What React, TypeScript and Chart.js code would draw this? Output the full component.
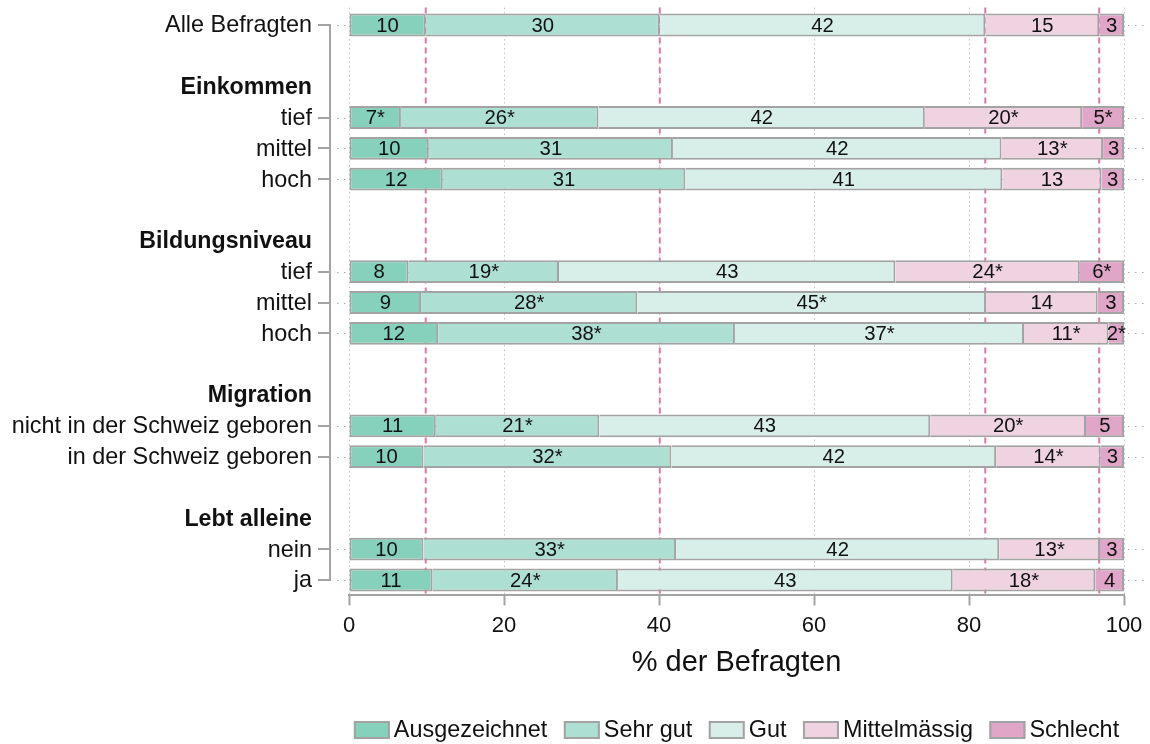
import React, { useEffect, useRef } from "react";
import { Chart, registerables } from "chart.js";

Chart.register(...registerables);

const FONT = '"Liberation Sans", Arial, Helvetica, sans-serif';

// Row structure (top to bottom)
const rowLabels = [
  "Alle Befragten", "", "Einkommen", "tief", "mittel", "hoch", "",
  "Bildungsniveau", "tief", "mittel", "hoch", "",
  "Migration", "nicht in der Schweiz geboren", "in der Schweiz geboren", "",
  "Lebt alleine", "nein", "ja",
];
const headerRows = [false, false, true, false, false, false, false, true, false, false, false, false, true, false, false, false, true, false, false];

const seriesNames = ["Ausgezeichnet", "Sehr gut", "Gut", "Mittelmässig", "Schlecht"];

const ausgezeichnet = [9.9, null, null, 6.7, 10.3, 12.1, null, null, 7.7, 9.3, 11.5, null, null, 11.2, 9.6, null, null, 9.6, 10.8];
const sehrGut = [30.2, null, null, 25.5, 31.5, 31.3, null, null, 19.4, 27.9, 38.3, null, null, 21.1, 32.0, null, null, 32.6, 23.9];
const gut = [42.0, null, null, 42.1, 42.4, 40.9, null, null, 43.4, 45.0, 37.3, null, null, 42.7, 41.9, null, null, 41.7, 43.2];
const mittelmaessig = [14.7, null, null, 20.3, 13.1, 12.8, null, null, 23.8, 14.4, 10.9, null, null, 20.1, 13.5, null, null, 13.0, 18.4];
const schlecht = [3.2, null, null, 5.4, 2.7, 2.9, null, null, 5.7, 3.4, 2.0, null, null, 4.9, 3.0, null, null, 3.1, 3.7];

const lblAusgezeichnet = ["10", "", "", "7*", "10", "12", "", "", "8", "9", "12", "", "", "11", "10", "", "", "10", "11"];
const lblSehrGut = ["30", "", "", "26*", "31", "31", "", "", "19*", "28*", "38*", "", "", "21*", "32*", "", "", "33*", "24*"];
const lblGut = ["42", "", "", "42", "42", "41", "", "", "43", "45*", "37*", "", "", "43", "42", "", "", "42", "43"];
const lblMittelmaessig = ["15", "", "", "20*", "13*", "13", "", "", "24*", "14", "11*", "", "", "20*", "14*", "", "", "13*", "18*"];
const lblSchlecht = ["3", "", "", "5*", "3", "3", "", "", "6*", "3", "2*", "", "", "5", "3", "", "", "3", "4"];

const xTicks = [0, 20, 40, 60, 80, 100];

const seriesValues = [ausgezeichnet, sehrGut, gut, mittelmaessig, schlecht];
const seriesLabels = [lblAusgezeichnet, lblSehrGut, lblGut, lblMittelmaessig, lblSchlecht];
const colors = ["#86d1bb", "#aedfd3", "#d7efe8", "#efd3e1", "#dfa6c7"];
const BORDER = "#a3a3a3";

// Reference lines: cumulative shares of "Alle Befragten"
const referenceLines = (() => {
  const out: number[] = [];
  let acc = 0;
  for (let s = 0; s < 4; s++) {
    acc += seriesValues[s][0] as number;
    out.push(acc);
  }
  return out;
})();

function line(ctx: CanvasRenderingContext2D, x1: number, y1: number, x2: number, y2: number) {
  ctx.beginPath();
  ctx.moveTo(x1, y1);
  ctx.lineTo(x2, y2);
  ctx.stroke();
}

const decorPlugin = {
  id: "decor",
  beforeDatasetsDraw(chart: any) {
    const { ctx, chartArea: ca, scales } = chart;
    const x = scales.x;
    const y = scales.y;
    ctx.save();
    // vertical dotted grid
    ctx.strokeStyle = "#c2c2c2";
    ctx.lineWidth = 1;
    ctx.setLineDash([1.5, 3]);
    for (const t of xTicks) {
      const px = Math.round(x.getPixelForValue(t)) + 0.5;
      line(ctx, px, ca.top - 2, px, ca.bottom);
    }
    // horizontal dotted lines at data rows
    ctx.strokeStyle = "#a8a8a8";
    ctx.setLineDash([1.5, 5.5]);
    rowLabels.forEach((lab, i) => {
      if (!lab || headerRows[i]) return;
      const py = Math.round(y.getPixelForValue(i)) + 0.5;
      line(ctx, ca.left - 12, py, ca.right + 22, py);
    });
    // reference dashed pink lines
    ctx.strokeStyle = "#d67aab";
    ctx.lineWidth = 2;
    ctx.setLineDash([6, 4]);
    for (const v of referenceLines) {
      const px = x.getPixelForValue(v);
      line(ctx, px, ca.top - 2, px, ca.bottom);
    }
    ctx.restore();
  },
  afterDatasetsDraw(chart: any) {
    const { ctx } = chart;
    ctx.save();
    ctx.font = `20.3px ${FONT}`;
    ctx.fillStyle = "#111";
    ctx.textAlign = "center";
    ctx.textBaseline = "middle";
    chart.data.datasets.forEach((ds: any, di: number) => {
      const meta = chart.getDatasetMeta(di);
      meta.data.forEach((el: any, i: number) => {
        const txt = seriesLabels[di][i];
        if (!txt || ds.data[i] == null) return;
        const cx = (el.x + el.base) / 2;
        ctx.fillText(txt, cx, el.y + 1);
      });
    });
    ctx.restore();
  },
  afterDraw(chart: any) {
    const { ctx, chartArea: ca, scales } = chart;
    const y = scales.y;
    ctx.save();
    // y labels
    ctx.fillStyle = "#111";
    ctx.textAlign = "right";
    ctx.textBaseline = "middle";
    rowLabels.forEach((lab, i) => {
      if (!lab) return;
      ctx.font = headerRows[i] ? `bold 23.2px ${FONT}` : `23.4px ${FONT}`;
      ctx.fillText(lab, 312, y.getPixelForValue(i) + 1);
    });
    // bracket
    ctx.strokeStyle = "#a3a3a3";
    ctx.lineWidth = 2;
    const first = y.getPixelForValue(0);
    const last = y.getPixelForValue(rowLabels.length - 1);
    line(ctx, 330, first - 1, 330, last + 1);
    rowLabels.forEach((lab, i) => {
      if (!lab || headerRows[i]) return;
      const py = Math.round(y.getPixelForValue(i));
      line(ctx, 318, py, 331, py);
    });
    // legend
    ctx.font = `23.4px ${FONT}`;
    ctx.textAlign = "left";
    const boxW = 36, boxH = 18, gapText = 4, gapItem = 16.5;
    const widths = seriesNames.map((n) => ctx.measureText(n).width);
    const total = widths.reduce((a, w) => a + boxW + gapText + w, 0) + gapItem * (seriesNames.length - 1);
    let lx = (ca.left + ca.right) / 2 - total / 2;
    const ly = 730;
    seriesNames.forEach((n, i) => {
      ctx.fillStyle = colors[i];
      ctx.fillRect(lx, ly - boxH / 2, boxW, boxH);
      ctx.strokeStyle = BORDER;
      ctx.lineWidth = 2;
      ctx.strokeRect(lx + 1, ly - boxH / 2 + 1, boxW - 2, boxH - 2);
      ctx.fillStyle = "#111";
      ctx.fillText(n, lx + boxW + gapText, ly + 1);
      lx += boxW + gapText + widths[i] + gapItem;
    });
    ctx.restore();
  },
};

export default function App() {
  const ref = useRef<HTMLCanvasElement>(null);
  useEffect(() => {
    if (!ref.current) return;
    const chart = new Chart(ref.current, {
      type: "bar",
      data: {
        labels: rowLabels,
        datasets: seriesNames.map((name, i) => ({
          label: name,
          data: seriesValues[i],
          backgroundColor: colors[i],
          borderColor: BORDER,
          borderWidth: 2,
          borderSkipped: i === 0 ? false : "start",
          categoryPercentage: 1,
          barPercentage: 0.74,
        })),
      },
      options: {
        indexAxis: "y",
        responsive: false,
        animation: false,
        devicePixelRatio: 1,
        layout: { padding: { left: 349, right: 26, top: 9.6, bottom: 0 } },
        plugins: { legend: { display: false }, tooltip: { enabled: false } },
        scales: {
          x: {
            type: "linear",
            min: 0,
            max: 100,
            stacked: true,
            position: "bottom",
            afterFit: (scale: any) => {
              scale.height = 744 - 595.4;
            },
            grid: { drawOnChartArea: false, drawTicks: true, tickLength: 10, tickWidth: 2, tickColor: "#a3a3a3" },
            border: { display: true, color: "#a3a3a3", width: 2 },
            ticks: { stepSize: 20, font: { family: FONT, size: 22 }, color: "#111", padding: 7, maxRotation: 0 },
            title: {
              display: true,
              text: "% der Befragten",
              font: { family: FONT, size: 29 },
              color: "#111",
              padding: { top: 0, bottom: 744 - 663 - 17.4 },
            },
          },
          y: {
            type: "category",
            stacked: true,
            display: false,
            offset: true,
          },
        },
      },
      plugins: [decorPlugin],
    } as any);
    return () => chart.destroy();
  }, []);
  return (
    <div style={{ position: "absolute", left: 0, top: 0, width: 1150, height: 744, background: "#fff" }}>
      <canvas ref={ref} width={1150} height={744} style={{ display: "block" }} />
    </div>
  );
}
